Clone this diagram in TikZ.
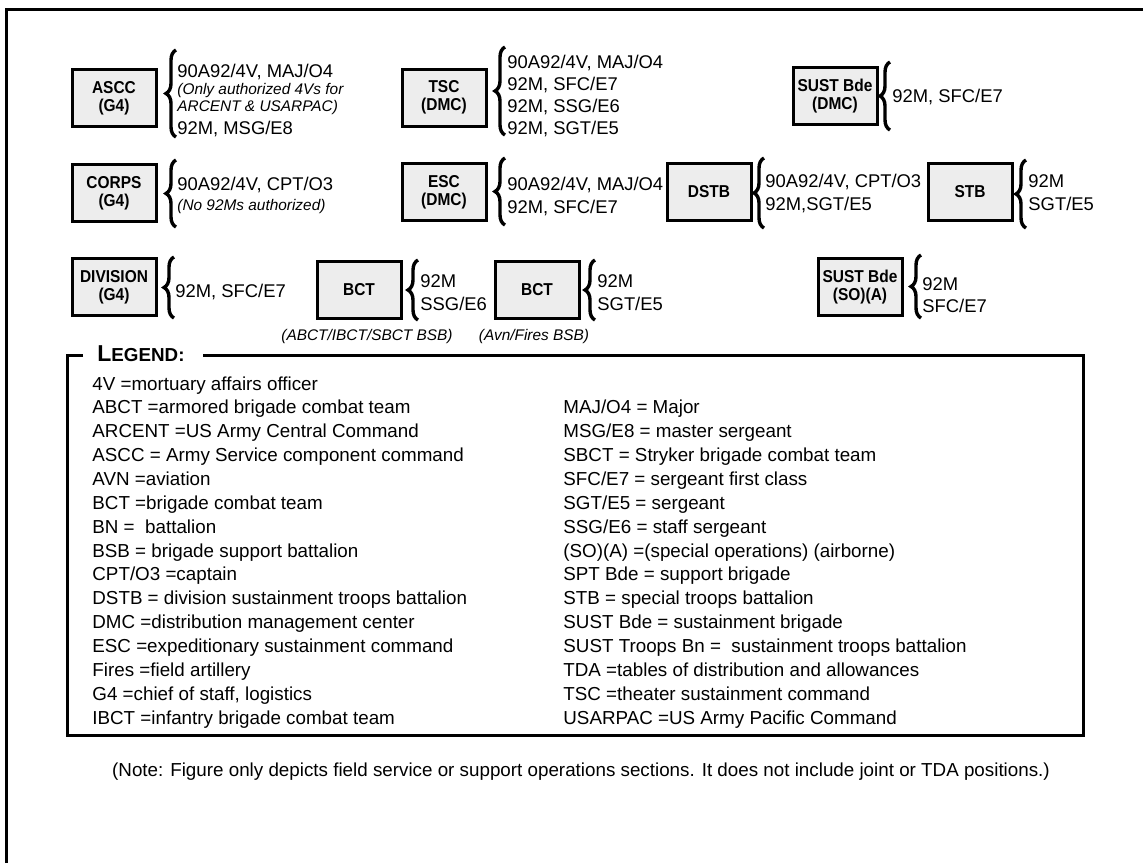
\documentclass[tikz,border=0pt]{standalone}
\usepackage{fontspec}
\setmainfont{Liberation Sans}
\newfontfamily\boxfont[FakeStretch=0.9]{Liberation Sans}
\usetikzlibrary{decorations.pathreplacing}
\definecolor{boxgray}{HTML}{EDEDED}
\begin{document}
\begin{tikzpicture}[x=0.5pt,y=-0.5pt,
  unitbox/.style={draw, line width=1.5pt, fill=boxgray, minimum width=42pt, minimum height=28.5pt, inner sep=0pt, align=center, font=\boxfont\bfseries\fontsize{8.6}{9}\selectfont},
  brc/.style={decorate, decoration={brace, amplitude=5pt}, line width=1.7pt},
  txt/.style={anchor=base west, inner sep=0pt, font=\fontsize{9.2}{11}\selectfont},
  itx/.style={anchor=base west, inner sep=0pt, font=\itshape\fontsize{7.7}{9}\selectfont},
  capt/.style={anchor=base, inner sep=0pt, font=\itshape\fontsize{7.7}{9}\selectfont},
  leg/.style={anchor=base west, inner sep=0pt, font=\fontsize{9.4}{11}\selectfont},
  frame/.style={line width=1.5pt}]
\useasboundingbox (0,0) rectangle (1143,863);
% outer frame
\draw[frame] (6.5,863) -- (6.5,9) -- (1143,9);
% unit boxes
\node[unitbox] (ascc) at (114,98) {ASCC\\(G4)};
\node[unitbox] (tsc) at (444,97.5) {TSC\\(DMC)};
\node[unitbox] (sustd) at (835,96) {SUST Bde\\(DMC)};
\node[unitbox] (corps) at (114,193) {CORPS\\(G4)};
\node[unitbox] (esc) at (444,192) {ESC\\(DMC)};
\node[unitbox] (dstb) at (709,192) {DSTB};
\node[unitbox] (stb) at (970,192) {STB};
\node[unitbox] (div) at (114,287) {DIVISION\\(G4)};
\node[unitbox] (bcta) at (359,290) {BCT};
\node[unitbox] (bctb) at (537,290) {BCT};
\node[unitbox] (sustso) at (860,287) {SUST Bde\\(SO)(A)};
% braces
\draw[brc] (176,137) -- (176,50);
\draw[brc] (505,135) -- (505,47);
\draw[brc] (890,130) -- (890,62);
\draw[brc] (176,227) -- (176,160);
\draw[brc] (505,225) -- (505,158);
\draw[brc] (764,228) -- (764,158);
\draw[brc] (1026,228) -- (1026,160);
\draw[brc] (174,318) -- (174,257);
\draw[brc] (418,320) -- (418,260);
\draw[brc] (595,320) -- (595,260);
\draw[brc] (921,318) -- (921,255);
% ASCC
\node[txt] (ascc1) at (177,77) {90A92/4V, MAJ/O4};
\node[itx] (ascc2) at (177,94.5) {(Only authorized 4Vs for};
\node[itx] (ascc3) at (177,111.5) {ARCENT \& USARPAC)};
\node[txt] (ascc4) at (177,134) {92M, MSG/E8};
% TSC
\node[txt] (tsc1) at (507,68) {90A92/4V, MAJ/O4};
\node[txt] (tsc2) at (507,90) {92M, SFC/E7};
\node[txt] (tsc3) at (507,112) {92M, SSG/E6};
\node[txt] (tsc4) at (507,134) {92M, SGT/E5};
% SUST Bde DMC
\node[txt] (sustd1) at (892,102) {92M, SFC/E7};
% CORPS
\node[txt] (corps1) at (177,190) {90A92/4V, CPT/O3};
\node[itx] (corps2) at (177,210.5) {(No 92Ms authorized)};
% ESC
\node[txt] (esc1) at (507,190) {90A92/4V, MAJ/O4};
\node[txt] (esc2) at (507,213) {92M, SFC/E7};
% DSTB
\node[txt] (dstb1) at (765,187) {90A92/4V, CPT/O3};
\node[txt] (dstb2) at (765,210) {92M,SGT/E5};
% STB
\node[txt] (stb1) at (1028,187) {92M};
\node[txt] (stb2) at (1028,210) {SGT/E5};
% DIVISION
\node[txt] (div1) at (175,297) {92M, SFC/E7};
% BCTs
\node[txt] (bcta1) at (420,287) {92M};
\node[txt] (bcta2) at (420,310) {SSG/E6};
\node[txt] (bctb1) at (597,287) {92M};
\node[txt] (bctb2) at (597,310) {SGT/E5};
\node[capt] (capa) at (367,340) {(ABCT/IBCT/SBCT BSB)};
\node[capt] (capb) at (534,340) {(Avn/Fires BSB)};
% SUST Bde SO A
\node[txt] (sustso1) at (922,290) {92M};
\node[txt] (sustso2) at (922,312) {SFC/E7};
% legend
\node[anchor=base west, inner sep=0pt, font=\bfseries] (legt) at (97,361) {{\fontsize{11.5}{12}\selectfont L}{\fontsize{9.4}{10}\selectfont EGEND:}};
\draw[frame, line join=miter] (83,355) -- (67,355) -- (67,735) -- (1083,735) -- (1083,355) -- (203,355);
\foreach \t [count=\i from 0] in {
  {4V =mortuary affairs officer},
  {ABCT =armored brigade combat team},
  {ARCENT =US Army Central Command},
  {ASCC = Army Service component command},
  {AVN =aviation},
  {BCT =brigade combat team},
  {BN = \ battalion},
  {BSB = brigade support battalion},
  {CPT/O3 =captain},
  {DSTB = division sustainment troops battalion},
  {DMC =distribution management center},
  {ESC =expeditionary sustainment command},
  {Fires =field artillery},
  {G4 =chief of staff, logistics},
  {IBCT =infantry brigade combat team}}
  \node[leg] (la\i) at (92,{390+23.86*\i}) {\t};
\foreach \t [count=\i from 1] in {
  {MAJ/O4 = Major},
  {MSG/E8 = master sergeant},
  {SBCT = Stryker brigade combat team},
  {SFC/E7 = sergeant first class},
  {SGT/E5 = sergeant},
  {SSG/E6 = staff sergeant},
  {(SO)(A) =(special operations) (airborne)},
  {SPT Bde = support brigade},
  {STB = special troops battalion},
  {SUST Bde = sustainment brigade},
  {SUST Troops Bn = \ sustainment troops battalion},
  {TDA =tables of distribution and allowances},
  {TSC =theater sustainment command},
  {USARPAC =US Army Pacific Command}}
  \node[leg] (lb\i) at (563,{390+23.86*\i}) {\t};
% note
\node[anchor=base, inner sep=0pt, font=\fontsize{9.4}{11}\selectfont] (note) at (581,776) {(Note: Figure only depicts field service or support operations sections. It does not include joint or TDA positions.)};
\end{tikzpicture}
\end{document}
